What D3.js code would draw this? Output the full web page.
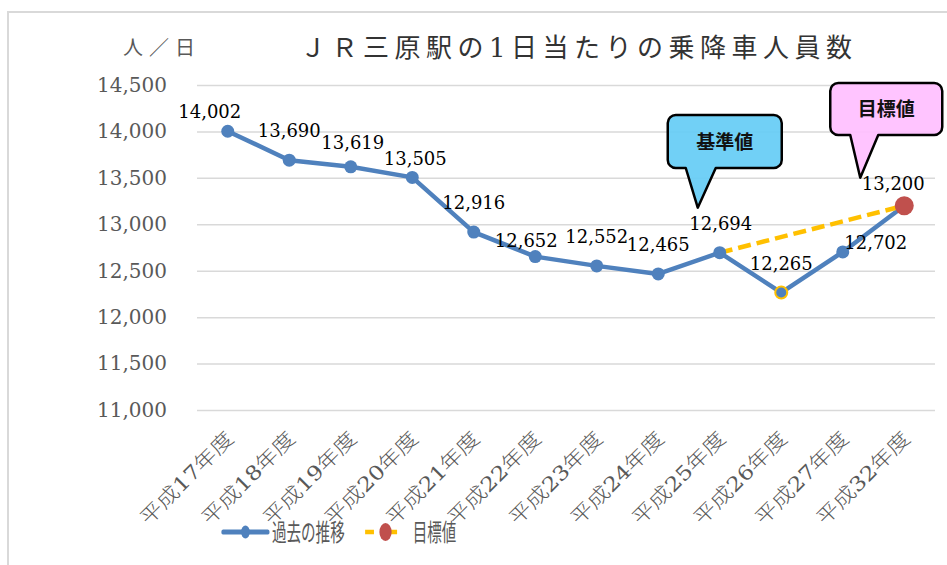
<!DOCTYPE html>
<html>
<head>
<meta charset="utf-8">
<script src="https://cdn.jsdelivr.net/npm/d3@7"></script>
<style>
  html, body { margin: 0; padding: 0; background: #fff; }
  svg { display: block; }
</style>
</head>
<body>
<svg id="chart" width="947" height="565"></svg>
<script>
'use strict';

const YEARS = ['平成17年度', '平成18年度', '平成19年度', '平成20年度', '平成21年度', '平成22年度',
  '平成23年度', '平成24年度', '平成25年度', '平成26年度', '平成27年度', '平成32年度'];
const PAST = [14002, 13690, 13619, 13505, 12916, 12652, 12552, 12465, 12694, 12265, 12702, 13200];
const TARGET = [null, null, null, null, null, null, null, null, 12694, null, null, 13200];
const Y_TICKS = [11000, 11500, 12000, 12500, 13000, 13500, 14000, 14500];
const TITLE = 'ＪＲ三原駅の1日当たりの乗降車人員数';
const UNIT = '人／日';
const SERIES_NAMES = ['過去の推移', '目標値'];
const CALLOUTS = [
  {text: '基準値', year: '平成25年度', value: 12694},
  {text: '目標値', year: '平成32年度', value: 13200}
];

// label nudges (px) where the labels were moved by hand in the original
const LABEL_SHIFT = [[-18, 10], [0, 0], [2, 5], [3, 11], [0, 0], [-9, 13],
  [0, 0], [0, 0], [1, 0], [0, 0], [33, 20], [-11, 7]];

const BLUE = '#4F81BD';
const ORANGE = '#FFC000';
const RED = '#C0504D';
const GRID = '#D9D9D9';
const SERIF = '"DejaVu Serif", "Noto Sans CJK JP", serif';
const SANS = '"Noto Sans CJK JP", sans-serif';

const svg = d3.select('#chart');

// outer frame
svg.append('rect')
   .attr('x', 8).attr('y', 12)
   .attr('width', 980).attr('height', 620)
   .attr('fill', '#fff')
   .attr('stroke', GRID)
   .attr('stroke-width', 2);

const x = d3.scaleBand().domain(YEARS).range([197, 935]);
const y = d3.scaleLinear().domain([11000, 14500]).range([410, 85]);
const cx = d => x(d) + x.bandwidth() / 2;

// gridlines + y labels
const yAxis = svg.append('g')
   .attr('transform', 'translate(197,0)')
   .call(d3.axisLeft(y).tickValues(Y_TICKS).tickSize(-738).tickPadding(30)
     .tickFormat(d3.format(',')));
yAxis.select('.domain').remove();
yAxis.selectAll('.tick line').attr('stroke', GRID).attr('stroke-width', 1.5);
yAxis.selectAll('.tick text')
   .attr('fill', '#595959')
   .attr('font-family', SERIF)
   .attr('font-size', 20);

// x labels
const xAxis = svg.append('g')
   .attr('transform', 'translate(0,410)')
   .call(d3.axisBottom(x).tickSize(0).tickPadding(0));
xAxis.select('.domain').remove();
xAxis.selectAll('.tick text')
   .attr('fill', '#595959')
   .attr('font-family', SERIF)
   .attr('font-size', 20)
   .attr('font-weight', 300)
   .attr('text-anchor', 'end')
   .attr('textLength', 122)
   .attr('lengthAdjust', 'spacingAndGlyphs')
   .attr('dy', 0)
   .attr('y', 0)
   .attr('transform', 'translate(7,30) rotate(-45)');

// titles
svg.append('text')
   .attr('x', 300).attr('y', 57)
   .attr('font-family', SERIF)
   .attr('font-size', 26)
   .attr('fill', '#333')
   .attr('textLength', 552)
   .attr('lengthAdjust', 'spacing')
   .text(TITLE);

svg.append('text')
   .attr('x', 123).attr('y', 55)
   .attr('font-family', SANS)
   .attr('font-size', 20)
   .attr('fill', '#595959')
   .attr('textLength', 72)
   .attr('lengthAdjust', 'spacing')
   .text(UNIT);

// past series
const line = d3.line()
   .defined(d => d.v != null)
   .x(d => cx(d.k))
   .y(d => y(d.v));

const pastData = YEARS.map((k, i) => ({k, v: PAST[i]}));
const targetData = YEARS.map((k, i) => ({k, v: TARGET[i]})).filter(d => d.v != null);

svg.append('path')
   .attr('fill', 'none')
   .attr('stroke', BLUE)
   .attr('stroke-width', 4.5)
   .attr('stroke-linejoin', 'round')
   .attr('d', line(pastData));

svg.append('path')
   .attr('fill', 'none')
   .attr('stroke', ORANGE)
   .attr('stroke-width', 4.5)
   .attr('stroke-dasharray', '13,6')
   .attr('d', line(targetData));

const minIdx = PAST.indexOf(d3.min(PAST));
svg.append('g').selectAll('circle')
   .data(pastData)
   .join('circle')
   .attr('cx', d => cx(d.k))
   .attr('cy', d => y(d.v))
   .attr('r', (d, i) => i === minIdx ? 6 : 6.5)
   .attr('fill', BLUE)
   .attr('stroke', (d, i) => i === minIdx ? ORANGE : 'none')
   .attr('stroke-width', 2);

const lastTarget = targetData[targetData.length - 1];
svg.append('circle')
   .attr('cx', cx(lastTarget.k))
   .attr('cy', y(lastTarget.v))
   .attr('r', 9.5)
   .attr('fill', RED);

// data labels
svg.append('g').selectAll('text')
   .data(pastData)
   .join('text')
   .attr('x', (d, i) => cx(d.k) + LABEL_SHIFT[i][0])
   .attr('y', (d, i) => y(d.v) - 23 + LABEL_SHIFT[i][1])
   .attr('text-anchor', 'middle')
   .attr('font-family', SERIF)
   .attr('font-size', 18)
   .attr('fill', '#000')
   .text(d => d3.format(',')(d.v));

// callouts
const calloutStyle = [
  {fill: '#66CCF5', dx: -30, w: 114, h: 53, top: 115, tail: [-12, 18]},
  {fill: '#FFBFFF', dx: -30, w: 112, h: 52, top: 83, tail: [-10, 18]}
];
CALLOUTS.forEach((c, i) => {
  const s = calloutStyle[i];
  const px = cx(c.year);
  const tipX = i === 0 ? px - 22 : px - 44;
  const tipY = i === 0 ? y(c.value) - 45 : y(c.value) - 28;
  const left = tipX + s.dx;
  const right = left + s.w;
  const top = s.top;
  const bottom = top + s.h;
  const r = 8;
  const bl = tipX + s.tail[0], br = tipX + s.tail[1];
  const p = d3.path();
  p.moveTo(left + r, top);
  p.lineTo(right - r, top);
  p.arcTo(right, top, right, top + r, r);
  p.lineTo(right, bottom - r);
  p.arcTo(right, bottom, right - r, bottom, r);
  p.lineTo(br, bottom);
  p.lineTo(tipX, tipY);
  p.lineTo(bl, bottom);
  p.lineTo(left + r, bottom);
  p.arcTo(left, bottom, left, bottom - r, r);
  p.lineTo(left, top + r);
  p.arcTo(left, top, left + r, top, r);
  p.closePath();
  svg.append('path')
     .attr('d', p.toString())
     .attr('fill', s.fill)
     .attr('fill-opacity', 0.93)
     .attr('stroke', '#000')
     .attr('stroke-width', 2.5)
     .attr('stroke-linejoin', 'round');
  svg.append('text')
     .attr('x', (left + right) / 2)
     .attr('y', (top + bottom) / 2 + 7)
     .attr('text-anchor', 'middle')
     .attr('font-family', SANS)
     .attr('font-weight', 700)
     .attr('font-size', 19)
     .attr('fill', '#111')
     .text(c.text);
});

// legend (horizontally squeezed like the original)
const legend = svg.append('g').attr('transform', 'translate(223,532) scale(0.68,1)');
legend.append('line')
   .attr('x1', 0).attr('x2', 66).attr('y1', 0).attr('y2', 0)
   .attr('stroke', BLUE).attr('stroke-width', 5).attr('stroke-linecap', 'round');
legend.append('circle').attr('cx', 33).attr('cy', 0).attr('r', 6.5).attr('fill', BLUE);
legend.append('text')
   .attr('x', 72).attr('y', 9)
   .attr('font-family', SANS).attr('font-size', 24).attr('fill', '#595959')
   .attr('textLength', 107).attr('lengthAdjust', 'spacingAndGlyphs')
   .text(SERIES_NAMES[0]);
legend.append('line')
   .attr('x1', 209).attr('x2', 268).attr('y1', 0).attr('y2', 0)
   .attr('stroke', ORANGE).attr('stroke-width', 4.5).attr('stroke-dasharray', '13,21');
legend.append('circle').attr('cx', 239).attr('cy', 0).attr('r', 9).attr('fill', RED);
legend.append('text')
   .attr('x', 279).attr('y', 9)
   .attr('font-family', SANS).attr('font-size', 24).attr('fill', '#595959')
   .attr('textLength', 64).attr('lengthAdjust', 'spacingAndGlyphs')
   .text(SERIES_NAMES[1]);
</script>
</body>
</html>
